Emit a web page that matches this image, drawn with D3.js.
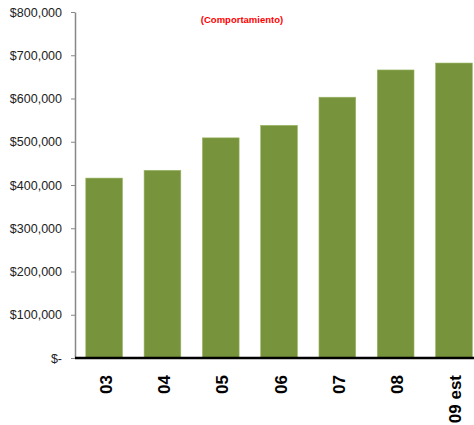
<!DOCTYPE html>
<html>
<head>
<meta charset="utf-8">
<script src="https://cdn.jsdelivr.net/npm/d3@7"></script>
<style>
  body { margin: 0; background: #fff; }
  svg { display: block; font-family: "Liberation Sans", Arial, sans-serif; }
</style>
</head>
<body>
<script>
// data
var years = ["03", "04", "05", "06", "07", "08", "09 est"];
var ventas = [416000, 434000, 509000, 538000, 603000, 666000, 682000];
var yTicks = [0, 100000, 200000, 300000, 400000, 500000, 600000, 700000, 800000];
var tituloTexto = "(Comportamiento)";

var w = 474;
var h = 425;
var left = 75;
var padTop = 12;
var bottom = 358;

var svg = d3.select("body")
    .append("svg")
    .attr("width", w)
    .attr("height", h);

var xScale = d3.scaleBand()
    .domain(years)
    .range([left, left + 58.3 * years.length])
    .paddingInner(0.37)
    .paddingOuter(0.185);

var yScale = d3.scaleLinear()
    .domain([0, 800000])
    .range([bottom, padTop]);

// eje y
var yAxis = d3.axisLeft(yScale)
    .tickValues(yTicks)
    .tickSize(4)
    .tickSizeOuter(0)
    .tickPadding(9)
    .tickFormat(function (d) {
        return d == 0 ? "$-" : "$" + d3.format(",")(d);
    });

var gy = svg.append("g")
    .attr("transform", "translate(" + left + ",0)")
    .call(yAxis);
gy.select(".domain").attr("stroke", "#888").attr("stroke-width", 1.5);
gy.selectAll(".tick line").attr("stroke", "#888");
gy.selectAll(".tick text")
    .attr("fill", "#222")
    .style("font-size", "12.5px");

// barras
svg.selectAll("rect.bar")
    .data(ventas)
    .enter()
    .append("rect")
    .attr("class", "bar")
    .attr("x", function (d, i) { return xScale(years[i]); })
    .attr("y", function (d) { return yScale(d); })
    .attr("width", xScale.bandwidth())
    .attr("height", function (d) { return bottom - yScale(d); })
    .attr("fill", "#77933c")
    .attr("stroke", "#9ab865")
    .attr("stroke-width", 0.6);

// linea base
svg.append("line")
    .attr("x1", left)
    .attr("x2", w)
    .attr("y1", bottom)
    .attr("y2", bottom)
    .attr("stroke", "#000")
    .attr("stroke-width", 2.5);

// etiquetas eje x (giradas)
svg.selectAll(".xlab")
    .data(years)
    .enter()
    .append("text")
    .attr("class", "xlab")
    .attr("transform", function (d) {
        var x = xScale(d) + xScale.bandwidth() / 2 + 1.5;
        return "translate(" + x + "," + 375 + ") rotate(-90)";
    })
    .attr("text-anchor", "end")
    .attr("dy", "0.35em")
    .attr("fill", "#000")
    .style("font-size", "17px")
    .style("font-weight", "bold")
    .text(function (d) { return d; });

// titulo
svg.append("text")
    .attr("x", 242)
    .attr("y", 23)
    .attr("text-anchor", "middle")
    .attr("fill", "#ff0000")
    .style("font-size", "9.5px")
    .style("font-weight", "bold")
    .text(tituloTexto);
</script>
</body>
</html>
